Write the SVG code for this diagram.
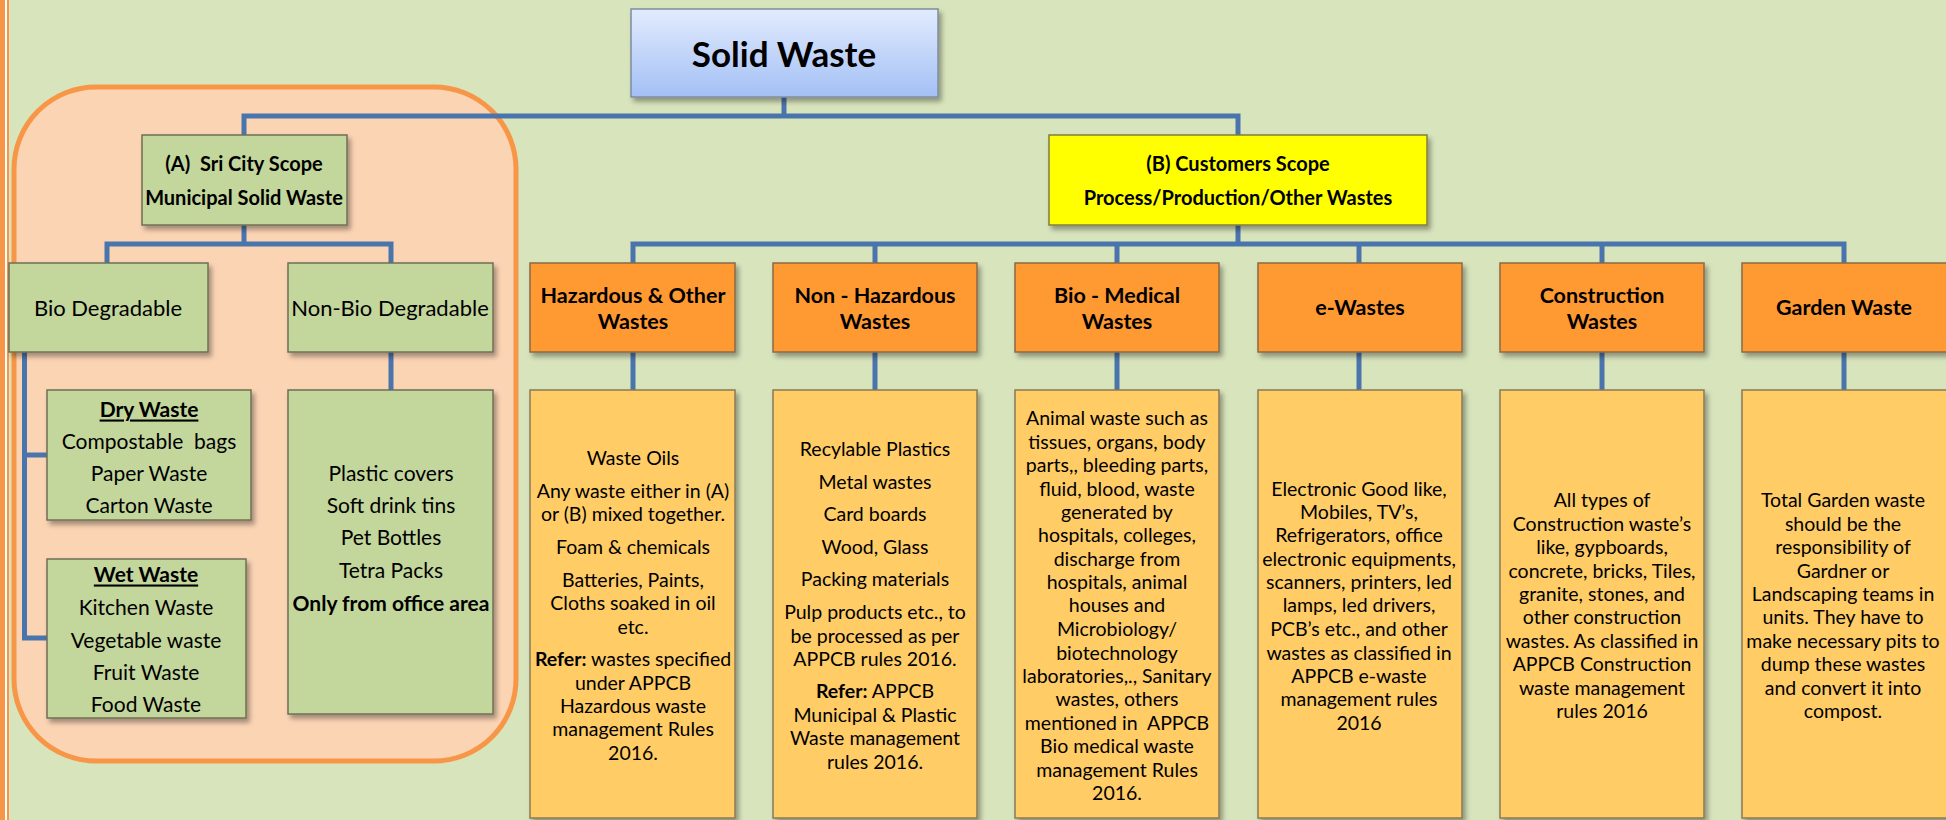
<svg xmlns="http://www.w3.org/2000/svg" width="1946" height="820" viewBox="0 0 1946 820">
<style>
text{font-family:Lato,"Open Sans","Liberation Sans",sans-serif;fill:#000;text-anchor:middle;dominant-baseline:central}
.b{font-weight:bold}
.title{font-size:35px;font-weight:bold}
.scope{font-size:20px;font-weight:bold}
.cat{font-size:22px}
.item{font-size:21px}
.hdr{font-size:21.5px;font-weight:bold}
.det{font-size:19.5px}
.u{text-decoration:underline}
.green{fill:#C3D69B;stroke:#6F6F55;stroke-width:1.5}
.orange{fill:#FF9933;stroke:#8A6A45;stroke-width:1.5}
.light{fill:#FFCC66;stroke:#8A7A55;stroke-width:1.5}
.conn{fill:none;stroke:#4A74AC;stroke-width:5;stroke-linejoin:miter;stroke-linecap:butt}
</style>
<defs>
<linearGradient id="blue" x1="0" y1="0" x2="0" y2="1">
<stop offset="0" stop-color="#E2ECFE"/>
<stop offset="1" stop-color="#A3C0F5"/>
</linearGradient>
<filter id="sh" x="-10%" y="-10%" width="130%" height="130%">
<feDropShadow dx="3" dy="4" stdDeviation="2.5" flood-color="#000" flood-opacity="0.35"/>
</filter>
</defs>
<rect x="0" y="0" width="1946" height="820" fill="#D8E4BC"/>
<rect x="0" y="0" width="5" height="820" fill="#F79646"/>
<rect x="5" y="0" width="2" height="820" fill="#FFFFFF"/>
<rect x="7" y="0" width="2" height="820" fill="#F79646"/>
<rect id="scopeA-area" x="14" y="87" width="502" height="674" rx="82" ry="82" fill="#FBD4B4" stroke="#F79646" stroke-width="5"/>

<g id="connectors">
<path class="conn" d="M784 97 V116"/>
<path class="conn" d="M244 135 V116 H1238 V135"/>
<path class="conn" d="M244 225 V244"/>
<path class="conn" d="M107 263 V244 H391 V263"/>
<path class="conn" d="M24.5 352 V638"/>
<path class="conn" d="M22 455 H47"/>
<path class="conn" d="M22 638 H47"/>
<path class="conn" d="M391 352 V390"/>
<path class="conn" d="M1238 225 V244"/>
<path class="conn" d="M633 263 V244 H1844 V263"/>
<path class="conn" d="M875 244 V263"/>
<path class="conn" d="M1117 244 V263"/>
<path class="conn" d="M1359 244 V263"/>
<path class="conn" d="M1602 244 V263"/>
<path class="conn" d="M633 352 V390"/>
<path class="conn" d="M875 352 V390"/>
<path class="conn" d="M1117 352 V390"/>
<path class="conn" d="M1359 352 V390"/>
<path class="conn" d="M1602 352 V390"/>
<path class="conn" d="M1844 352 V390"/>
</g>

<g id="solid-waste">
<rect x="631" y="9" width="307" height="88" fill="url(#blue)" stroke="#7F8C9F" stroke-width="1.5" filter="url(#sh)"/>
<text class="title" x="784" y="53">Solid Waste</text>
</g>

<g id="scope-a">
<rect class="green" x="142" y="135" width="205" height="90" filter="url(#sh)"/>
<text class="scope" x="244" y="163" xml:space="preserve">(A)  Sri City Scope</text>
<text class="scope" x="244" y="197">Municipal Solid Waste</text>
</g>

<g id="scope-b">
<rect x="1049" y="135" width="378" height="90" fill="#FFFF00" stroke="#7F7F3F" stroke-width="1.5" filter="url(#sh)"/>
<text class="scope" x="1238" y="163">(B) Customers Scope</text>
<text class="scope" x="1238" y="197">Process/Production/Other Wastes</text>
</g>

<g id="bio-degradable">
<rect class="green" x="9" y="263" width="199" height="89" filter="url(#sh)"/>
<text class="cat" x="108" y="307">Bio Degradable</text>
</g>

<g id="non-bio-degradable">
<rect class="green" x="288" y="263" width="205" height="89" filter="url(#sh)"/>
<text class="cat" x="390" y="307">Non-Bio Degradable</text>
</g>

<g id="dry-waste">
<rect class="green" x="47" y="390" width="204" height="130" filter="url(#sh)"/>
<text class="item b u" x="149" y="408">Dry Waste</text>
<text class="item" x="149" y="440" xml:space="preserve">Compostable  bags</text>
<text class="item" x="149" y="472">Paper Waste</text>
<text class="item" x="149" y="504">Carton Waste</text>
</g>

<g id="wet-waste">
<rect class="green" x="47" y="559" width="199" height="159" filter="url(#sh)"/>
<text class="item b u" x="146" y="573">Wet Waste</text>
<text class="item" x="146" y="606">Kitchen Waste</text>
<text class="item" x="146" y="639">Vegetable waste</text>
<text class="item" x="146" y="671">Fruit Waste</text>
<text class="item" x="146" y="703">Food Waste</text>
</g>

<g id="non-bio-items">
<rect class="green" x="288" y="390" width="205" height="324" filter="url(#sh)"/>
<text class="item" x="391" y="472">Plastic covers</text>
<text class="item" x="391" y="504">Soft drink tins</text>
<text class="item" x="391" y="536">Pet Bottles</text>
<text class="item" x="391" y="569">Tetra Packs</text>
<text class="item b" x="391" y="602">Only from office area</text>
</g>

<g id="hazardous">
<rect class="orange" x="530" y="263" width="205" height="89" filter="url(#sh)"/>
<text class="hdr" x="633" y="295">Hazardous &amp; Other</text>
<text class="hdr" x="633" y="321">Wastes</text>
</g>
<g id="hazardous-details">
<rect class="light" x="530" y="390" width="205" height="428" filter="url(#sh)"/>
<text class="det" x="633" y="457">Waste Oils</text>
<text class="det" x="633" y="490">Any waste either in (A)</text>
<text class="det" x="633" y="513">or (B) mixed together.</text>
<text class="det" x="633" y="546">Foam &amp; chemicals</text>
<text class="det" x="633" y="579">Batteries, Paints,</text>
<text class="det" x="633" y="602">Cloths soaked in oil</text>
<text class="det" x="633" y="626">etc.</text>
<text class="det" x="633" y="658"><tspan class="b">Refer:</tspan> wastes specified</text>
<text class="det" x="633" y="682">under APPCB</text>
<text class="det" x="633" y="705">Hazardous waste</text>
<text class="det" x="633" y="728">management Rules</text>
<text class="det" x="633" y="752">2016.</text>
</g>

<g id="non-hazardous">
<rect class="orange" x="773" y="263" width="204" height="89" filter="url(#sh)"/>
<text class="hdr" x="875" y="295">Non - Hazardous</text>
<text class="hdr" x="875" y="321">Wastes</text>
</g>
<g id="non-hazardous-details">
<rect class="light" x="773" y="390" width="204" height="428" filter="url(#sh)"/>
<text class="det" x="875" y="448">Recylable Plastics</text>
<text class="det" x="875" y="481">Metal wastes</text>
<text class="det" x="875" y="513">Card boards</text>
<text class="det" x="875" y="546">Wood, Glass</text>
<text class="det" x="875" y="578">Packing materials</text>
<text class="det" x="875" y="611">Pulp products etc., to</text>
<text class="det" x="875" y="635">be processed as per</text>
<text class="det" x="875" y="658">APPCB rules 2016.</text>
<text class="det" x="875" y="690"><tspan class="b">Refer:</tspan> APPCB</text>
<text class="det" x="875" y="714">Municipal &amp; Plastic</text>
<text class="det" x="875" y="737">Waste management</text>
<text class="det" x="875" y="761">rules 2016.</text>
</g>

<g id="bio-medical">
<rect class="orange" x="1015" y="263" width="204" height="89" filter="url(#sh)"/>
<text class="hdr" x="1117" y="295">Bio - Medical</text>
<text class="hdr" x="1117" y="321">Wastes</text>
</g>
<g id="bio-medical-details">
<rect class="light" x="1015" y="390" width="204" height="428" filter="url(#sh)"/>
<text class="det" x="1117" y="417">Animal waste such as</text>
<text class="det" x="1117" y="441">tissues, organs, body</text>
<text class="det" x="1117" y="464">parts,, bleeding parts,</text>
<text class="det" x="1117" y="488">fluid, blood, waste</text>
<text class="det" x="1117" y="511">generated by</text>
<text class="det" x="1117" y="534">hospitals, colleges,</text>
<text class="det" x="1117" y="558">discharge from</text>
<text class="det" x="1117" y="581">hospitals, animal</text>
<text class="det" x="1117" y="604">houses and</text>
<text class="det" x="1117" y="628">Microbiology/</text>
<text class="det" x="1117" y="652">biotechnology</text>
<text class="det" x="1117" y="675">laboratories,., Sanitary</text>
<text class="det" x="1117" y="698">wastes, others</text>
<text class="det" x="1117" y="722" xml:space="preserve">mentioned in  APPCB</text>
<text class="det" x="1117" y="745">Bio medical waste</text>
<text class="det" x="1117" y="769">management Rules</text>
<text class="det" x="1117" y="792">2016.</text>
</g>

<g id="e-wastes">
<rect class="orange" x="1258" y="263" width="204" height="89" filter="url(#sh)"/>
<text class="hdr" x="1360" y="307">e-Wastes</text>
</g>
<g id="e-wastes-details">
<rect class="light" x="1258" y="390" width="204" height="428" filter="url(#sh)"/>
<text class="det" x="1359" y="488">Electronic Good like,</text>
<text class="det" x="1359" y="511">Mobiles, TV’s,</text>
<text class="det" x="1359" y="534">Refrigerators, office</text>
<text class="det" x="1359" y="558">electronic equipments,</text>
<text class="det" x="1359" y="581">scanners, printers, led</text>
<text class="det" x="1359" y="604">lamps, led drivers,</text>
<text class="det" x="1359" y="628">PCB’s etc., and other</text>
<text class="det" x="1359" y="652">wastes as classified in</text>
<text class="det" x="1359" y="675">APPCB e-waste</text>
<text class="det" x="1359" y="698">management rules</text>
<text class="det" x="1359" y="722">2016</text>
</g>

<g id="construction">
<rect class="orange" x="1500" y="263" width="204" height="89" filter="url(#sh)"/>
<text class="hdr" x="1602" y="295">Construction</text>
<text class="hdr" x="1602" y="321">Wastes</text>
</g>
<g id="construction-details">
<rect class="light" x="1500" y="390" width="204" height="428" filter="url(#sh)"/>
<text class="det" x="1602" y="499">All types of</text>
<text class="det" x="1602" y="523">Construction waste’s</text>
<text class="det" x="1602" y="546">like, gypboards,</text>
<text class="det" x="1602" y="570">concrete, bricks, Tiles,</text>
<text class="det" x="1602" y="593">granite, stones, and</text>
<text class="det" x="1602" y="616">other construction</text>
<text class="det" x="1602" y="640">wastes. As classified in</text>
<text class="det" x="1602" y="663">APPCB Construction</text>
<text class="det" x="1602" y="687">waste management</text>
<text class="det" x="1602" y="710">rules 2016</text>
</g>

<g id="garden">
<rect class="orange" x="1742" y="263" width="205" height="89" filter="url(#sh)"/>
<text class="hdr" x="1844" y="307">Garden Waste</text>
</g>
<g id="garden-details">
<rect class="light" x="1742" y="390" width="205" height="428" filter="url(#sh)"/>
<text class="det" x="1843" y="499">Total Garden waste</text>
<text class="det" x="1843" y="523">should be the</text>
<text class="det" x="1843" y="546">responsibility of</text>
<text class="det" x="1843" y="570">Gardner or</text>
<text class="det" x="1843" y="593">Landscaping teams in</text>
<text class="det" x="1843" y="616">units. They have to</text>
<text class="det" x="1843" y="640">make necessary pits to</text>
<text class="det" x="1843" y="663">dump these wastes</text>
<text class="det" x="1843" y="687">and convert it into</text>
<text class="det" x="1843" y="710">compost.</text>
</g>
</svg>
